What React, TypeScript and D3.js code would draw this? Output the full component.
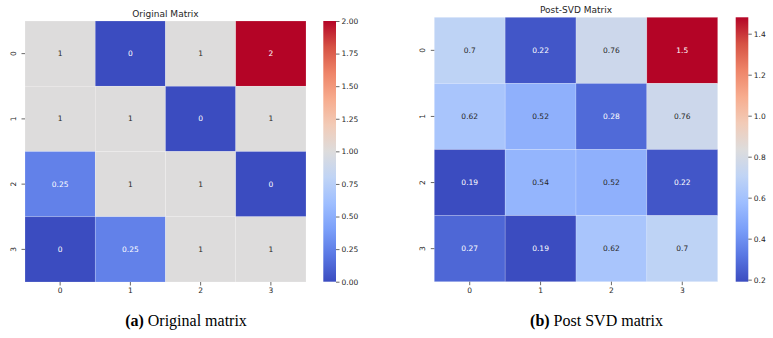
import * as d3 from 'd3';
import { useEffect, useRef } from 'react';

// matplotlib "coolwarm", sampled at 0, 0.1, ..., 1
const coolwarmStops = ['#3b4cc0', '#5977e3', '#7b9ff9', '#9ebeff', '#c0d4f5', '#dddcdc', '#f2cbb7', '#f7ac8e', '#ee8468', '#d65244', '#b40426'];

const rowLabels = ['0', '1', '2', '3'];
const colLabels = ['0', '1', '2', '3'];

const originalValues = [
  [1, 0, 1, 2],
  [1, 1, 0, 1],
  [0.25, 1, 1, 0],
  [0, 0.25, 1, 1],
];
const postSvdValues = [
  [0.7, 0.22, 0.76, 1.48],
  [0.62, 0.52, 0.28, 0.76],
  [0.19, 0.54, 0.52, 0.22],
  [0.27, 0.19, 0.62, 0.7],
];

const originalTicks = [0, 0.25, 0.5, 0.75, 1, 1.25, 1.5, 1.75, 2];
const postSvdTicks = [0.2, 0.4, 0.6, 0.8, 1.0, 1.2, 1.4];

const panels = [
  {
    id: 'a', title: 'Original Matrix', caption: 'Original matrix', values: originalValues,
    ticks: originalTicks, tickFmt: '.2f',
    x: [25, 306], y: [21, 282], cbar: [323.3, 336], titleY: 14, captionX: 186,
  },
  {
    id: 'b', title: 'Post-SVD Matrix', caption: 'Post SVD matrix', values: postSvdValues,
    ticks: postSvdTicks, tickFmt: '.1f',
    x: [434.3, 717.7], y: [17.3, 281.7], cbar: [735.7, 748.3], titleY: 10, captionX: 596.5,
  },
];

const sans = 'DejaVu Sans';
const dark = '#262626';

// seaborn's choice of annotation colour
const luminance = (c: string) => {
  const { r, g, b } = d3.rgb(c);
  const lin = (v: number) => {
    v /= 255;
    return v <= 0.03928 ? v / 12.92 : Math.pow((v + 0.055) / 1.055, 2.4);
  };
  return 0.2126 * lin(r) + 0.7152 * lin(g) + 0.0722 * lin(b);
};

const App = () => {
  const svgRef = useRef<SVGSVGElement>(null);

  useEffect(() => {
    const svg = d3.select(svgRef.current);
    svg.selectAll('*').remove();
    const interp = d3.piecewise(d3.interpolateRgb, coolwarmStops);
    const fmtCell = d3.format('.2~g');

    panels.forEach((p) => {
      const flat = p.values.flat();
      const [vmin, vmax] = d3.extent(flat) as [number, number];
      const color = d3.scaleSequential(interp).domain([vmin, vmax]);

      const xScale = d3.scaleBand(colLabels, p.x);
      const yScale = d3.scaleBand(rowLabels, p.y);
      const g = svg.append('g');

      // cells
      p.values.forEach((row, i) => {
        row.forEach((v, j) => {
          const fill = color(v);
          g.append('rect')
            .attr('x', xScale(colLabels[j]))
            .attr('y', yScale(rowLabels[i]))
            .attr('width', xScale.bandwidth())
            .attr('height', yScale.bandwidth())
            .attr('fill', fill)
            .attr('stroke', '#fff')
            .attr('stroke-opacity', 0.3)
            .attr('stroke-width', 0.6);
          g.append('text')
            .attr('x', xScale(colLabels[j])! + xScale.bandwidth() / 2)
            .attr('y', yScale(rowLabels[i])! + yScale.bandwidth() / 2)
            .attr('text-anchor', 'middle')
            .attr('dominant-baseline', 'central')
            .attr('font-family', sans)
            .attr('font-size', 7.5)
            .attr('fill', luminance(fill) > 0.408 ? dark : '#fff')
            .text(fmtCell(v));
        });
      });

      // x axis
      g.append('g')
        .attr('transform', `translate(0,${p.y[1]})`)
        .call(d3.axisBottom(xScale).tickSize(3.5).tickPadding(2))
        .call((a) => {
          a.select('.domain').remove();
          a.selectAll('.tick line').attr('stroke', dark).attr('stroke-width', 0.7);
          a.selectAll('.tick text').attr('fill', dark).attr('font-family', sans).attr('font-size', 7.5);
        });

      // y axis, rotated labels
      g.append('g')
        .attr('transform', `translate(${p.x[0]},0)`)
        .call(d3.axisLeft(yScale).tickSize(3.5).tickPadding(2))
        .call((a) => {
          a.select('.domain').remove();
          a.selectAll('.tick line').attr('stroke', dark).attr('stroke-width', 0.7);
          a.selectAll('.tick text')
            .attr('fill', dark).attr('font-family', sans).attr('font-size', 7.5)
            .attr('x', null).attr('dy', null)
            .attr('text-anchor', 'middle')
            .attr('dominant-baseline', 'central')
            .attr('transform', 'translate(-11.5,0) rotate(-90)');
        });

      // title
      g.append('text')
        .attr('x', (p.x[0] + p.x[1]) / 2)
        .attr('y', p.titleY)
        .attr('text-anchor', 'middle')
        .attr('dominant-baseline', 'central')
        .attr('font-family', sans)
        .attr('font-size', 9)
        .attr('fill', dark)
        .text(p.title);

      // colorbar
      const gradId = `grad-${p.id}`;
      const grad = svg.append('defs').append('linearGradient')
        .attr('id', gradId).attr('x1', 0).attr('x2', 0).attr('y1', 1).attr('y2', 0);
      coolwarmStops.forEach((c, k) => {
        grad.append('stop').attr('offset', k / (coolwarmStops.length - 1)).attr('stop-color', c);
      });
      const barY = p.id === 'a' ? [21, 281.7] : [17.3, 281.7];
      g.append('rect')
        .attr('x', p.cbar[0])
        .attr('y', barY[0])
        .attr('width', p.cbar[1] - p.cbar[0])
        .attr('height', barY[1] - barY[0])
        .attr('fill', `url(#${gradId})`);
      const cScale = d3.scaleLinear([vmin, vmax], [barY[1], barY[0]]);
      g.append('g')
        .attr('transform', `translate(${p.cbar[1]},0)`)
        .call(d3.axisRight(cScale).tickValues(p.ticks).tickFormat(d3.format(p.tickFmt)).tickSize(3.5).tickPadding(2))
        .call((a) => {
          a.select('.domain').remove();
          a.selectAll('.tick line').attr('stroke', dark).attr('stroke-width', 0.7);
          a.selectAll('.tick text').attr('fill', dark).attr('font-family', sans).attr('font-size', 7.5);
        });

      // caption
      const cap = svg.append('text')
        .attr('x', p.captionX)
        .attr('y', 326)
        .attr('text-anchor', 'middle')
        .attr('font-family', 'Liberation Serif')
        .attr('font-size', 16)
        .attr('fill', '#000');
      cap.append('tspan').attr('font-weight', 'bold').text(`(${p.id})`);
      cap.append('tspan').text(` ${p.caption}`);
    });
  }, []);

  return (
    <svg
      ref={svgRef}
      width={773}
      height={338}
      style={{ position: 'absolute', left: 0, top: 0, background: '#fff' }}
    />
  );
};

export default App;
